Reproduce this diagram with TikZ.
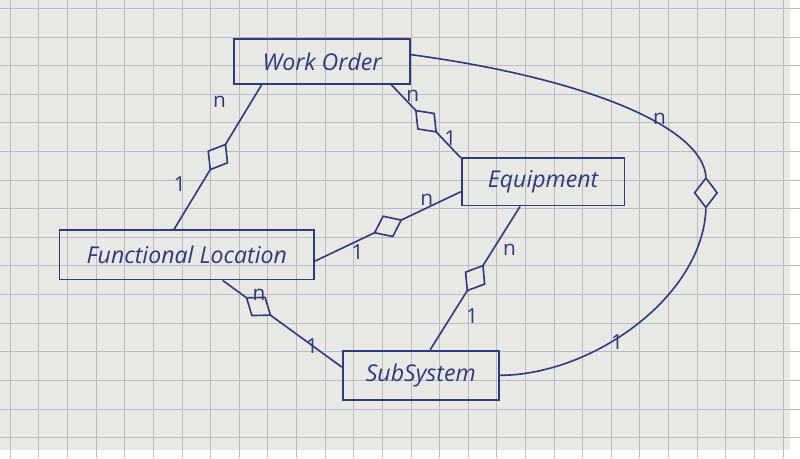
\documentclass[tikz,border=0pt]{standalone}
\usepackage{fontspec}
\setmainfont{Open Sans}
\usetikzlibrary{shapes.geometric,calc}
\definecolor{paper}{HTML}{E8E8E4}
\definecolor{gridc}{HTML}{B9BDC2}
\definecolor{ink}{HTML}{2E3B7C}
\begin{document}
\begin{tikzpicture}[x=0.03cm,y=-0.03cm,
  ent/.style={draw=ink,line width=1.5pt,text=ink,font=\itshape\fontsize{20}{21}\selectfont,inner sep=0pt},
  con/.style={draw=ink,line width=1.4pt},
  dia/.style={diamond,draw=ink,line width=1.4pt,fill=paper,inner sep=0pt,minimum width=26pt,minimum height=20pt,sloped},
  lab/.style={text=ink,font=\fontsize{18}{19}\selectfont}]
\fill[paper] (0,0) rectangle (800,456);
\draw[gridc,line width=0.6pt,xstep=0.87cm,ystep=0.87cm,shift={(10,8)}] (-10,-8) grid (800,456);
\useasboundingbox (0,0) rectangle (800,456);
\node[ent,minimum width=178*0.03cm,minimum height=45*0.03cm] (wo) at (326,62) {Work Order};
\node[ent,minimum width=165*0.03cm,minimum height=48*0.03cm] (eq) at (550,184) {Equipment};
\node[ent,minimum width=258*0.03cm,minimum height=50*0.03cm] (fl) at (189,258) {Functional Location};
\node[ent,minimum width=158*0.03cm,minimum height=50*0.03cm] (ss) at (426,380) {SubSystem};
% WO - FL
\draw[con] ($(wo.south west)!0.16!(wo.south east)$) -- node[dia] (d1) {} ($(fl.north west)!0.45!(fl.north east)$);
\node[lab] (l1) at (222,103) {n}; \node[lab] (l2) at (182,186) {1};
% WO - Eq
\draw[con] ($(wo.south west)!0.89!(wo.south east)$) -- node[dia] (d2) {} ($(eq.north west)!0.01!(eq.south west)$);
\node[lab] (l3) at (418,97) {n}; \node[lab] (l4) at (456,140) {1};
% Eq - FL
\draw[con] ($(eq.north west)!0.7!(eq.south west)$) -- node[dia] (d3) {} ($(fl.north east)!0.62!(fl.south east)$);
\node[lab] (l5) at (432,202) {n}; \node[lab] (l6) at (362,255) {1};
% Eq - SS
\draw[con] ($(eq.south west)!0.36!(eq.south east)$) -- node[dia] (d4) {} ($(ss.north west)!0.56!(ss.north east)$);
\node[lab] (l7) at (516,253) {n}; \node[lab] (l8) at (478,320) {1};
% FL - SS
\draw[con] ($(fl.south west)!0.64!(fl.south east)$) -- node[dia,pos=0.3] (d5) {} ($(ss.north west)!0.34!(ss.south west)$);
\node[lab] (l9) at (262,298) {n}; \node[lab] (l10) at (316,350) {1};
% WO - SS curve
\node[diamond,draw=ink,line width=1.4pt,fill=paper,inner sep=0pt,minimum width=20pt,minimum height=26pt] (d6) at (715,195) {};
\draw[con] ($(wo.north east)!0.35!(wo.south east)$) .. controls (600,80) and (712,130) .. (d6.north);
\draw[con] (d6.south) .. controls (712,300) and (600,380) .. ($(ss.north east)!0.5!(ss.south east)$);
\node[lab] (l11) at (668,120) {n}; \node[lab] (l12) at (625,346) {1};
\end{tikzpicture}
\end{document}
